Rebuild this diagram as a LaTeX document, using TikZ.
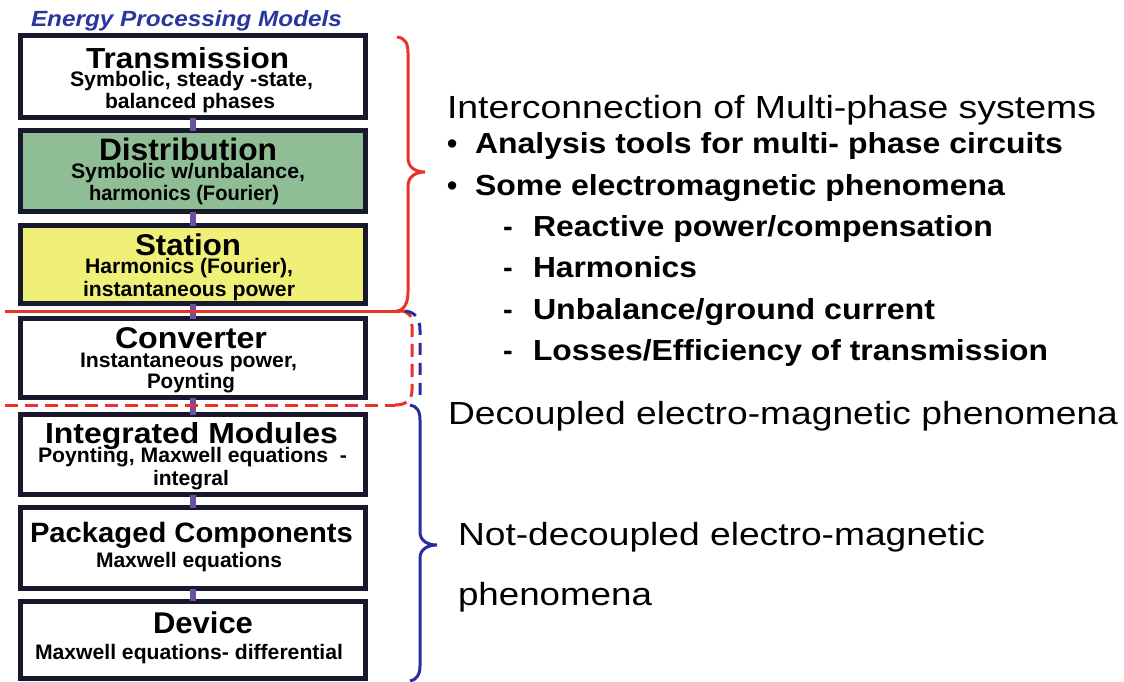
\documentclass[tikz,border=0pt]{standalone}
\usepackage{fontspec}
\setmainfont{Liberation Sans}
\usepackage{graphicx}
\definecolor{boxline}{RGB}{25,25,45}
\definecolor{distgreen}{RGB}{143,189,150}
\definecolor{statyellow}{RGB}{240,240,120}
\definecolor{conpurple}{RGB}{110,80,160}
\definecolor{bracered}{RGB}{235,50,40}
\definecolor{braceblue}{RGB}{40,45,160}
\definecolor{titleblue}{RGB}{40,55,160}
\newcommand{\fitto}[2]{\resizebox{#1pt}{\height}{#2}}
\newcommand{\fsz}[1]{\fontsize{#1}{#1}\selectfont}
\begin{document}
\begin{tikzpicture}[x=1pt,y=-1pt,
  box/.style={draw=boxline, line width=5pt, rectangle, inner sep=0pt, outer sep=0pt, minimum width=345pt},
  link/.style={draw=conpurple, line width=6pt},
  txt/.style={anchor=base west, inner sep=0pt, outer sep=0pt, text=black},
  btitle/.style={txt, font=\bfseries\fsz{#1}},
  bsub/.style={txt, font=\bfseries\fsz{21}},
  rreg/.style={txt, font=\fsz{32}},
  rbold/.style={txt, font=\bfseries\fsz{29}},
  redl/.style={draw=bracered, line width=3pt},
  bluel/.style={draw=braceblue, line width=3pt}
]
\useasboundingbox[fill=white] (0,0) rectangle (1124,681);

% boxes
\path (193,76.5) node[box, minimum height=82pt, fill=white] (tr) {};
\path (193,171) node[box, minimum height=81pt, fill=distgreen] (di) {};
\path (193,264.5) node[box, minimum height=78pt, fill=statyellow] (st) {};
\path (193,358) node[box, minimum height=79pt, fill=white] (co) {};
\path (193,454.5) node[box, minimum height=80pt, fill=white] (im) {};
\path (193,548) node[box, minimum height=81pt, fill=white] (pc) {};
\path (193,640) node[box, minimum height=77.5pt, fill=white] (de) {};

% connectors
\draw[link] (tr.south) -- (di.north);
\draw[link] (di.south) -- (st.north);
\draw[link] (st.south) -- (co.north);
\draw[link] (co.south) -- (im.north);
\draw[link] (im.south) -- (pc.north);
\draw[link] (pc.south) -- (de.north);

% title
\node[txt, font=\bfseries\itshape\fsz{22}, text=titleblue] (title) at (31,26) {\fitto{311}{Energy Processing Models}};

% box texts
\node[btitle=29] (trt) at (86,68) {\fitto{203}{Transmission}};
\node[bsub] (trs1) at (70,86) {\fitto{243}{Symbolic, steady -state,}};
\node[bsub] (trs2) at (105,108) {\fitto{170}{balanced phases}};

\node[btitle=31] (dit) at (99,160) {\fitto{178}{Distribution}};
\node[bsub] (dis1) at (71,178) {\fitto{234}{Symbolic w/unbalance,}};
\node[bsub] (dis2) at (89,200) {\fitto{190}{harmonics (Fourier)}};

\node[btitle=30] (stt) at (135,255) {\fitto{106}{Station}};
\node[bsub] (sts1) at (85,273) {\fitto{208}{Harmonics (Fourier),}};
\node[bsub] (sts2) at (83,296) {\fitto{212}{instantaneous power}};

\node[btitle=30] (cot) at (115,348) {\fitto{152}{Converter}};
\node[bsub] (cos1) at (80,367) {\fitto{217}{Instantaneous power,}};
\node[bsub] (cos2) at (147,388) {\fitto{88}{Poynting}};

\node[btitle=29] (imt) at (45,443) {\fitto{293}{Integrated Modules}};
\node[bsub] (ims1) at (38,462) {\fitto{309}{Poynting, Maxwell equations\ \ -}};
\node[bsub] (ims2) at (153,485) {\fitto{76}{integral}};

\node[btitle=28] (pct) at (30,542) {\fitto{323}{Packaged Components}};
\node[bsub] (pcs1) at (96,567) {\fitto{186}{Maxwell equations}};

\node[btitle=30] (det) at (153,633) {\fitto{100}{Device}};
\node[bsub] (des1) at (35,659) {\fitto{308}{Maxwell equations- differential}};

% red separators
\draw[redl] (5,311) -- (400,311);
\draw[redl, dash pattern=on 13pt off 7pt] (5,405) -- (395,405);

% red brace
\draw[redl] (397,37) .. controls (405,38) and (408,43) .. (408,53) -- (408,158)
  .. controls (408,167) and (415,172) .. (425,172)
  .. controls (415,172) and (408,177) .. (408,186) -- (408,292)
  .. controls (408,303) and (404,311) .. (396,311);
% red dashed bracket
\draw[redl, dash pattern=on 13pt off 7pt] (400,311) .. controls (409,311) and (412,316) .. (412,326)
  -- (412,390) .. controls (412,400) and (406,405) .. (395,405);
% blue dashed part
\draw[bluel, dash pattern=on 12pt off 8pt] (405,311) .. controls (415,312) and (420,318) .. (420,330) -- (420,400);
% blue brace
\draw[bluel] (410,405) .. controls (417,406) and (420,411) .. (420,420) -- (420,532)
  .. controls (420,541) and (428,545) .. (437,545)
  .. controls (428,545) and (420,549) .. (420,558) -- (420,666)
  .. controls (420,675) and (416,680) .. (410,681);

% right texts
\node[rreg] (r1) at (447,118.5) {\fitto{649}{Interconnection of Multi-phase systems}};
\node[rbold] (b1) at (447,153.5) {•};
\node[rbold] (r2) at (475,153.5) {\fitto{588}{Analysis tools for multi- phase circuits}};
\node[rbold] (b2) at (447,195.5) {•};
\node[rbold] (r3) at (475,195.5) {\fitto{530}{Some electromagnetic phenomena}};
\node[rbold] (d1) at (503,236.5) {-};
\node[rbold] (r4) at (533,236.5) {\fitto{460}{Reactive power/compensation}};
\node[rbold] (d2) at (503,277.5) {-};
\node[rbold] (r5) at (533,277.5) {\fitto{164}{Harmonics}};
\node[rbold] (d3) at (503,319) {-};
\node[rbold] (r6) at (533,319) {\fitto{402}{Unbalance/ground current}};
\node[rbold] (d4) at (503,360.5) {-};
\node[rbold] (r7) at (533,360.5) {\fitto{515}{Losses/Efficiency of transmission}};
\node[rreg] (r8) at (448,424) {\fitto{670}{Decoupled electro-magnetic phenomena}};
\node[rreg] (r9) at (458,545.5) {\fitto{527}{Not-decoupled electro-magnetic}};
\node[rreg] (r10) at (458,605) {\fitto{194}{phenomena}};
\end{tikzpicture}
\end{document}
